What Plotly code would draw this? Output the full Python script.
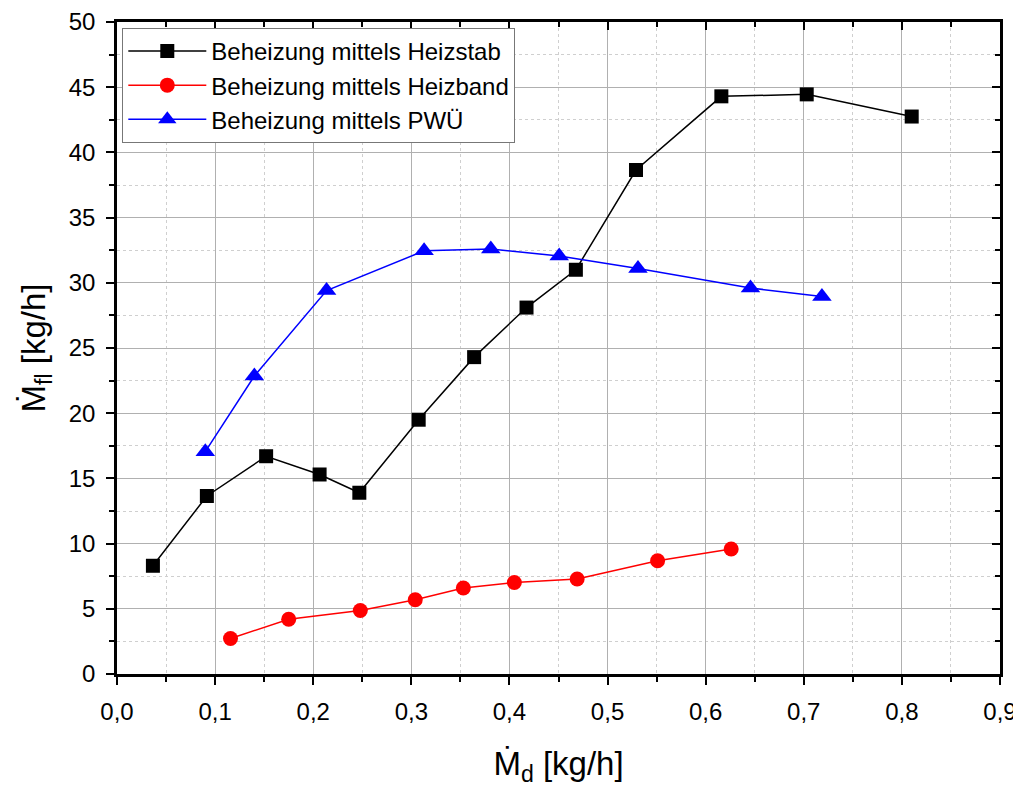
import plotly.graph_objects as go

# Data
heizstab_x = [0.0366, 0.0916, 0.152, 0.2065, 0.247, 0.3075, 0.364, 0.4174, 0.4677, 0.529, 0.616, 0.703, 0.81]
heizstab_y = [8.3, 13.65, 16.7, 15.3, 13.9, 19.5, 24.3, 28.1, 31.0, 38.65, 44.3, 44.45, 42.75]

heizband_x = [0.1157, 0.175, 0.248, 0.304, 0.353, 0.405, 0.469, 0.551, 0.626]
heizband_y = [2.72, 4.2, 4.87, 5.69, 6.59, 7.02, 7.28, 8.69, 9.59]

pwue_x = [0.090, 0.140, 0.2136, 0.313, 0.381, 0.4507, 0.531, 0.6457, 0.7185]
pwue_y = [17.05, 22.85, 29.4, 32.45, 32.6, 32.05, 31.1, 29.6, 28.95]

names = ["Beheizung mittels Heizstab", "Beheizung mittels Heizband", "Beheizung mittels PWÜ"]

FONT = "Liberation Sans, Arial, sans-serif"

fig = go.Figure()
fig.add_trace(go.Scatter(x=heizstab_x, y=heizstab_y, mode="lines+markers", name=names[0],
                         line=dict(color="black", width=1.5),
                         marker=dict(symbol="square", size=14, color="black")))
fig.add_trace(go.Scatter(x=heizband_x, y=heizband_y, mode="lines+markers", name=names[1],
                         line=dict(color="red", width=1.5),
                         marker=dict(symbol="circle", size=15, color="red")))
fig.add_trace(go.Scatter(x=pwue_x, y=pwue_y, mode="lines+markers", name=names[2],
                         line=dict(color="blue", width=1.5),
                         marker=dict(symbol="triangle-up", size=17, color="blue")))
# invisible trace for mirrored axes with inward ticks
fig.add_trace(go.Scatter(x=[0], y=[0], xaxis="x2", yaxis="y2", mode="markers",
                         marker=dict(opacity=0), showlegend=False, hoverinfo="skip"))

fig.update_layout(
    width=1013, height=779,
    paper_bgcolor="white", plot_bgcolor="white",
    margin=dict(l=109, r=21, t=14, b=113, autoexpand=False),
    separators=",.",
    font=dict(family=FONT, color="black"),
    showlegend=True,
    legend=dict(x=0.006, y=0.991, xanchor="left", yanchor="top",
                bgcolor="white", bordercolor="#777777", borderwidth=1,
                font=dict(size=24, family=FONT), tracegroupgap=0, itemwidth=78),
    xaxis=dict(range=[0, 0.9], dtick=0.1, tick0=0, tickformat=".1f",
               showline=True, linecolor="black", linewidth=2.5,
               ticks="outside", ticklen=8, tickwidth=2, tickcolor="black",
               tickfont=dict(size=24, family=FONT), ticklabelstandoff=6,
               showgrid=True, gridcolor="#b0b0b0", gridwidth=1.2,
               zeroline=False, automargin=False,
               minor=dict(dtick=0.05, ticks="outside", ticklen=5, tickwidth=2, tickcolor="black",
                          showgrid=True, gridcolor="#cfcfcf", griddash="dot", gridwidth=1),
               title=dict(text="Ṁ<sub>d</sub> [kg/h]", font=dict(size=33, family=FONT), standoff=34)),
    yaxis=dict(range=[0, 50], dtick=5, tick0=0,
               showline=True, linecolor="black", linewidth=2.5,
               ticks="outside", ticklen=8, tickwidth=2, tickcolor="black",
               tickfont=dict(size=24, family=FONT), ticklabelstandoff=6,
               showgrid=True, gridcolor="#b0b0b0", gridwidth=1.2,
               zeroline=False, automargin=False,
               minor=dict(dtick=2.5, ticks="outside", ticklen=5, tickwidth=2, tickcolor="black",
                          showgrid=True, gridcolor="#cfcfcf", griddash="dot", gridwidth=1),
               title=dict(text="Ṁ<sub>fl</sub> [kg/h]", font=dict(size=33, family=FONT), standoff=14)),
    xaxis2=dict(overlaying="x", side="top", range=[0, 0.9], dtick=0.1, tick0=0,
                showline=True, linecolor="black", linewidth=2.5,
                ticks="inside", ticklen=8, tickwidth=2, tickcolor="black",
                showticklabels=False, showgrid=False, zeroline=False,
                minor=dict(dtick=0.05, ticks="inside", ticklen=5, tickwidth=2, tickcolor="black")),
    yaxis2=dict(overlaying="y", side="right", range=[0, 50], dtick=5, tick0=0,
                showline=True, linecolor="black", linewidth=2.5,
                ticks="inside", ticklen=8, tickwidth=2, tickcolor="black",
                showticklabels=False, showgrid=False, zeroline=False,
                minor=dict(dtick=2.5, ticks="inside", ticklen=5, tickwidth=2, tickcolor="black")),
)

fig.write_html("out.html")
